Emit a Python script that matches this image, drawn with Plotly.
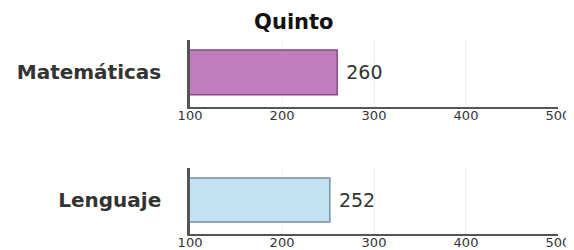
import plotly.graph_objects as go

title = "Quinto"
subjects = ["Matemáticas", "Lenguaje"]
scores = [260, 252]
fill_colors = ["#C07DBE", "#C4E1F4"]
line_colors = ["#8A4888", "#7590A3"]
tick_vals = [100, 200, 300, 400, 500]

FONT = "DejaVu Sans, Verdana, sans-serif"

# page body has an 8px margin, so the figure is drawn 8px smaller
W, H = 566, 242

fig = go.Figure()
domains_y = [[0.5909, 0.8678], [0.0661, 0.3388]]
for i, (s, v) in enumerate(zip(subjects, scores)):
    xa = "x" if i == 0 else "x2"
    ya = "y" if i == 0 else "y2"
    fig.add_trace(go.Bar(
        x=[v], y=[s], orientation="h", base=0,
        marker=dict(color=fill_colors[i], line=dict(color=line_colors[i], width=1.5)),
        text=[" " + str(v)], textposition="outside", cliponaxis=False,
        textfont=dict(family=FONT, size=19, color="#333333"),
        width=0.8, xaxis=xa, yaxis=ya, showlegend=False,
    ))

axis_common = dict(
    range=[100, 500], tickvals=tick_vals, ticktext=[str(t) for t in tick_vals],
    showgrid=True, gridcolor="#EEF2F5", gridwidth=1,
    showline=True, linecolor="#555555", linewidth=2,
    ticks="", zeroline=False, automargin=False, ticklabelstandoff=-5,
    ticklabeloverflow="allow",
    tickfont=dict(family=FONT, size=13, color="#333333"),
    domain=[0.3216, 0.9717], fixedrange=True,
)
yaxis_common = dict(
    showline=True, linecolor="#555555", linewidth=2.5, ticks="", automargin=False,
    tickfont=dict(family=FONT, size=20, color="#333333"),
    range=[-0.62, 0.58], fixedrange=True, ticklabelstandoff=22,
)
fig.update_layout(
    width=W, height=H,
    margin=dict(l=0, r=0, t=0, b=0, autoexpand=False),
    paper_bgcolor="white", plot_bgcolor="white",
    title=dict(text="<b>" + title + "</b>", x=0.505, xanchor="center", y=0.945, yanchor="middle",
               font=dict(family=FONT, size=21, color="#111111")),
    xaxis=dict(axis_common, anchor="y"),
    xaxis2=dict(axis_common, anchor="y2"),
    yaxis=dict(yaxis_common, domain=domains_y[0], anchor="x",
               tickvals=[subjects[0]], ticktext=["<b>" + subjects[0] + "</b>"]),
    yaxis2=dict(yaxis_common, domain=domains_y[1], anchor="x2",
                tickvals=[subjects[1]], ticktext=["<b>" + subjects[1] + "</b>"]),
)
fig.write_html("out.html")
